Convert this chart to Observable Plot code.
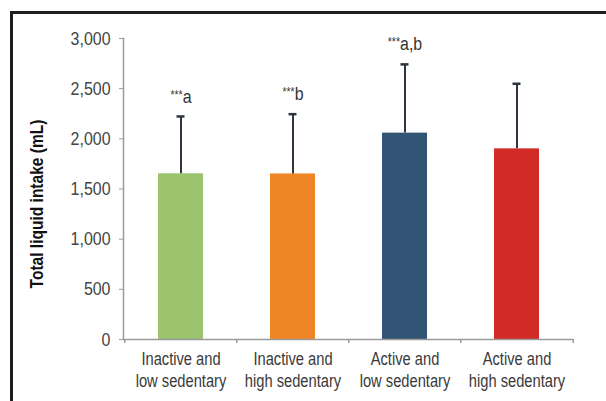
<!DOCTYPE html>
<html><head><meta charset="utf-8">
<script src="https://cdn.jsdelivr.net/npm/d3@7"></script>
<script src="https://cdn.jsdelivr.net/npm/@observablehq/plot@0.6"></script>
<style>
body{margin:0;background:#fff;}
#wrap{position:relative;width:606px;height:401px;overflow:hidden;background:#fff;}
#border{position:absolute;left:10px;top:11px;width:700px;height:500px;border:3px solid #1e1e1e;}
#chart{position:absolute;left:0;top:0;}
</style></head><body>
<div id="wrap"><div id="border"></div><div id="chart"></div></div>
<script>
const categories = ["Inactive and low sedentary", "Inactive and high sedentary", "Active and low sedentary", "Active and high sedentary"];
const tickLabels = ["Inactive and\nlow sedentary", "Inactive and\nhigh sedentary", "Active and\nlow sedentary", "Active and\nhigh sedentary"];
const means = [1652, 1650, 2057, 1900];
const upperErr = [2223, 2246, 2742, 2549];
const notes = ["***a", "***b", "***a,b", ""];
const colors = ["#9cc46e", "#ef8626", "#325475", "#d22b27"];
const yTicks = [0, 500, 1000, 1500, 2000, 2500, 3000];
const yLabel = "Total liquid intake (mL)";

const data = categories.map((c, i) => ({category: c, mean: means[i], upper: upperErr[i], note: notes[i], color: colors[i]}));
const font = `"Liberation Sans", Arial, sans-serif`;
const step = 450 / 4;
const fmt = d3.format(",");

const chart = Plot.plot({
  width: 606, height: 401,
  marginLeft: 123, marginRight: 33, marginTop: 38, marginBottom: 62,
  style: {fontFamily: font, background: "transparent", overflow: "visible"},
  x: {domain: categories, paddingInner: 0.6, paddingOuter: 0.3},
  y: {domain: [0, 3000]},
  marks: [
    Plot.barY(data, {x: "category", y: "mean", fill: "color"}),
    Plot.ruleX(data, {x: "category", y1: "mean", y2: "upper", stroke: "#2c3540", strokeWidth: 2}),
    Plot.tickY(data, {x: "category", y: "upper", stroke: "#2c3540", strokeWidth: 2.5, insetLeft: 18.5, insetRight: 18.5}),
    Plot.text(data, {x: "category", y: "upper", text: "note", dy: -20, fontSize: 19, fill: "#333"}),
    Plot.ruleY([0], {stroke: "#9a9a9a", strokeWidth: 1.5}),
    Plot.frame({anchor: "left", stroke: "#9a9a9a", strokeWidth: 1.5}),
    Plot.ruleX(categories, {x: d => d, y1: 0, y2: -40, dx: -step / 2, stroke: "#9a9a9a", strokeWidth: 1.5}),
    Plot.ruleX(categories.slice(-1), {x: d => d, y1: 0, y2: -40, dx: step / 2, stroke: "#9a9a9a", strokeWidth: 1.5}),
    Plot.axisY({ticks: yTicks, tickFormat: fmt, tickSize: 4, tickPadding: 9, fontSize: 19, color: "#444", stroke: "#9a9a9a", label: null}),
    Plot.axisX({tickSize: 0, tickPadding: 10, tickFormat: d => tickLabels[categories.indexOf(d)], fontSize: 17.5, lineHeight: 1.24, color: "#3a3a3a", label: null}),
    Plot.text([yLabel], {frameAnchor: "left", textAnchor: "middle", rotate: -90, dx: -86, dy: 15, fontWeight: "bold", fontSize: 18.5, fill: "#111"})
  ]
});
document.getElementById("chart").appendChild(chart);

const ns = "http://www.w3.org/2000/svg";
chart.querySelectorAll("text").forEach(t => {
  // smaller raised asterisks
  const s = t.textContent;
  if (s.startsWith("***") && t.children.length === 0) {
    const rest = s.slice(3);
    t.textContent = "";
    const a = document.createElementNS(ns, "tspan");
    a.setAttribute("font-size", "12.5");
    a.setAttribute("dy", "-4");
    a.textContent = "***";
    const b = document.createElementNS(ns, "tspan");
    b.setAttribute("dy", "4");
    b.textContent = rest;
    t.appendChild(a); t.appendChild(b);
  }
  // condensed look: compress horizontally around the anchor
  const tr = t.getAttribute("transform");
  if (tr) t.setAttribute("transform", `${tr} scale(0.84,1)`);
});
</script>
</body></html>
